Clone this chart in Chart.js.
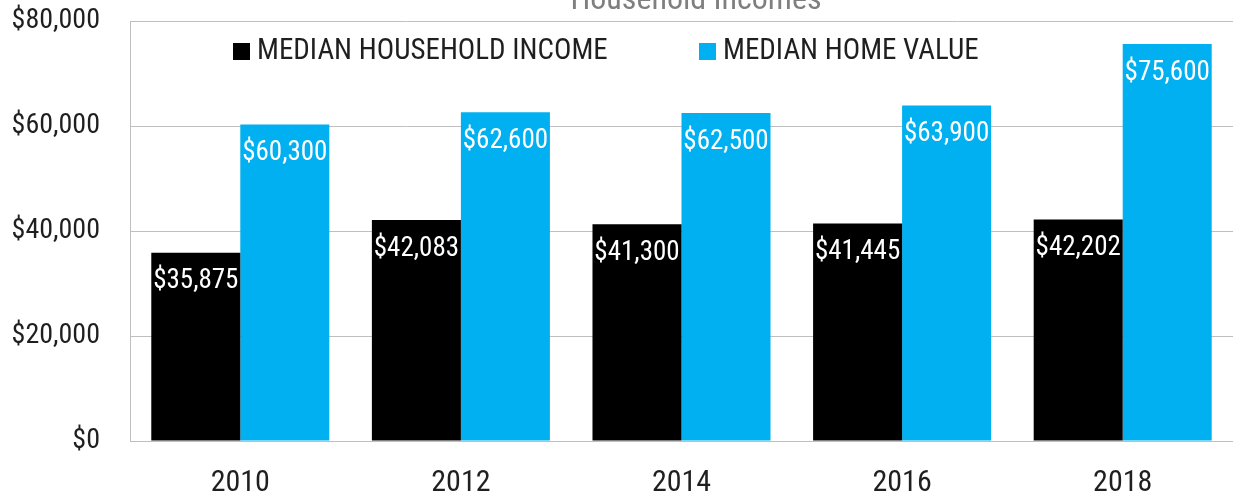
<!DOCTYPE html>
<html>
<head>
<meta charset="utf-8">
<script src="https://cdn.jsdelivr.net/npm/chart.js@4.4.0/dist/chart.umd.min.js"></script>
<style>
    html, body { margin: 0; padding: 0; background: #fff; }
    #wrap { width: 1233px; height: 498px; }
</style>
</head>
<body>
<div id="wrap"><canvas id="incomeChart"></canvas></div>
<script>
// Chart data
const years = ['2010', '2012', '2014', '2016', '2018'];
const householdIncome = [35875, 42083, 41300, 41445, 42202];
const homeValue = [60300, 62600, 62500, 63900, 75600];
const seriesNames = ['MEDIAN HOUSEHOLD INCOME', 'MEDIAN HOME VALUE'];
const yTicks = [0, 20000, 40000, 60000, 80000];
const chartTitle = 'Household Incomes';

const FAMILY = 'Roboto';
const STRETCH = 'condensed';   // goes in front of the size in the font string
const GRID = '#bfbfbf';
const TEXT = '#1f1f1f';

function money(v) {
    return '$' + Number(v).toLocaleString('en-US');
}

function fontString(size) {
    return STRETCH + ' ' + size + 'px ' + FAMILY;
}

// Title, cut off at the top edge as in the original
const titlePlugin = {
    id: 'cutTitle',
    afterDraw(chart) {
        const ctx = chart.ctx;
        ctx.save();
        ctx.font = fontString(32);
        ctx.fillStyle = '#7f7f7f';
        ctx.textAlign = 'center';
        ctx.textBaseline = 'alphabetic';
        ctx.fillText(chartTitle, 696, 9);
        ctx.restore();
    }
};

// Legend drawn inside the plot area
const innerLegend = {
    id: 'innerLegend',
    afterDraw(chart) {
        const ctx = chart.ctx;
        const starts = [233, 699];
        ctx.save();
        ctx.font = fontString(29);
        ctx.textAlign = 'left';
        ctx.textBaseline = 'middle';
        chart.data.datasets.forEach((ds, i) => {
            const x = starts[i];
            ctx.fillStyle = ds.backgroundColor;
            ctx.fillRect(x, 43, 17, 17);
            ctx.fillStyle = TEXT;
            ctx.fillText(ds.label, x + 24, 52);
        });
        ctx.restore();
    }
};

// White value labels near the top of each bar
const valueLabels = {
    id: 'valueLabels',
    afterDatasetsDraw(chart) {
        const ctx = chart.ctx;
        ctx.save();
        ctx.font = fontString(27);
        ctx.fillStyle = '#ffffff';
        ctx.textAlign = 'center';
        ctx.textBaseline = 'middle';
        chart.data.datasets.forEach((ds, i) => {
            const meta = chart.getDatasetMeta(i);
            meta.data.forEach((bar, j) => {
                ctx.fillText(money(ds.data[j]), bar.x, bar.y + 29);
            });
        });
        ctx.restore();
    }
};

// keep the axes from reserving extra room for label overhang
function noOverhang(scale) {
    scale.paddingTop = 0;
    scale.paddingBottom = 0;
    scale.paddingLeft = 0;
    scale.paddingRight = 0;
}

const ctx = document.getElementById('incomeChart').getContext('2d');

new Chart(ctx, {
    type: 'bar',
    data: {
        labels: years,
        datasets: [{
            label: seriesNames[0],
            data: householdIncome,
            backgroundColor: '#000000'
        }, {
            label: seriesNames[1],
            data: homeValue,
            backgroundColor: '#00b0f0'
        }]
    },
    options: {
        responsive: true,
        maintainAspectRatio: false,
        animation: false,
        layout: {
            padding: { top: 21, right: 0, bottom: 0, left: 0 }
        },
        datasets: {
            bar: {
                categoryPercentage: 0.807,
                barPercentage: 1.0
            }
        },
        scales: {
            x: {
                grid: { display: false, drawTicks: false },
                border: { color: GRID, width: 1 },
                ticks: {
                    color: TEXT,
                    padding: 24,
                    font: { family: FAMILY, weight: STRETCH, size: 30 }
                },
                afterFit(scale) {
                    scale.height = 57;
                    noOverhang(scale);
                }
            },
            y: {
                min: 0,
                max: 80000,
                afterBuildTicks(scale) {
                    scale.ticks = yTicks.map(v => ({ value: v }));
                },
                grid: { color: GRID, drawTicks: false },
                border: { color: GRID, width: 1 },
                ticks: {
                    color: TEXT,
                    padding: 30,
                    font: { family: FAMILY, weight: STRETCH, size: 28 },
                    callback: (v) => money(v)
                },
                afterFit(scale) {
                    scale.width = 130;
                    noOverhang(scale);
                }
            }
        },
        plugins: {
            legend: { display: false },
            title: { display: false },
            tooltip: { enabled: false }
        }
    },
    plugins: [valueLabels, innerLegend, titlePlugin]
});
</script>
</body>
</html>
